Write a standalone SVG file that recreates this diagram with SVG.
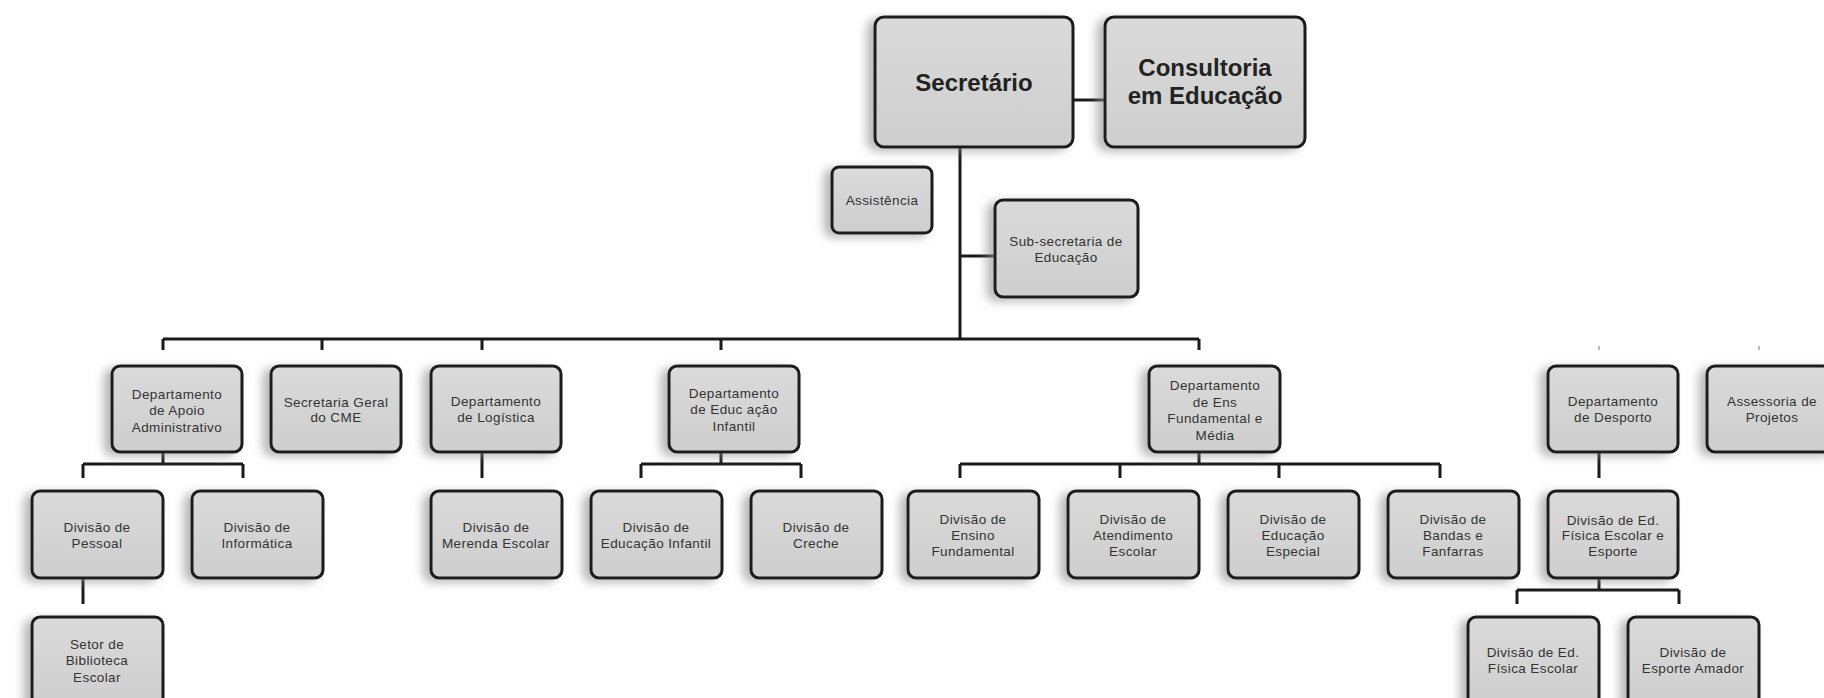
<svg xmlns="http://www.w3.org/2000/svg" width="1824" height="698" viewBox="0 0 1824 698">
<defs>
<linearGradient id="g" x1="0" y1="0" x2="0" y2="1">
<stop offset="0" stop-color="#dadada"/>
<stop offset="1" stop-color="#cecece"/>
</linearGradient>
<filter id="sh" x="-30%" y="-30%" width="160%" height="160%">
<feDropShadow dx="-7" dy="3" stdDeviation="5" flood-color="#8a8a8a" flood-opacity="0.6"/>
</filter>
</defs>
<style>
.box{fill:url(#g);stroke:#1c1c1c;stroke-width:3;filter:url(#sh)}
.t{font-family:'Liberation Sans',Arial,sans-serif;font-size:13.5px;fill:#333;text-anchor:middle;letter-spacing:0.4px}
.b{font-family:'Liberation Sans',Arial,sans-serif;font-size:24px;font-weight:bold;fill:#222;text-anchor:middle}
.ln{fill:none;stroke:#1a1a1a;stroke-width:3}
.tick{fill:none;stroke:#bdbdbd;stroke-width:2}
</style>
<rect width="1824" height="698" fill="#ffffff"/>
<g id="connectors">
<path class="ln" d="M1073 100H1105"/>
<path class="ln" d="M960 147V339"/>
<path class="ln" d="M960 256H995"/>
<path class="ln" d="M163 339H1199"/>
<path class="ln" d="M163 339V350M322 339V350M482 339V350M721 339V350M1199 339V350"/>
<path class="ln" d="M163 452V464M83 464H243M83 464V478M243 464V478"/>
<path class="ln" d="M83 578V604"/>
<path class="ln" d="M482 452V478"/>
<path class="ln" d="M721 452V464M641 464H801M641 464V478M801 464V478"/>
<path class="ln" d="M1199 452V464M960 464H1440M960 464V478M1120 464V478M1279 464V478M1440 464V478"/>
<path class="ln" d="M1599 452V478"/>
<path class="ln" d="M1599 578V590M1517 590H1679M1517 590V604M1679 590V604"/>
<path class="tick" d="M1599 346V350M1759 346V350"/>
</g>
<g id="secretario"><rect class="box" x="875" y="17" width="198" height="130" rx="9"/><text class="b" x="974" y="91">Secretário</text></g>
<g id="consultoria"><rect class="box" x="1105" y="17" width="200" height="130" rx="9"/><text class="b" x="1205" y="76">Consultoria</text><text class="b" x="1205" y="104">em Educação</text></g>
<g id="assistencia"><rect class="box" x="832" y="167" width="100" height="66" rx="7"/><text class="t" x="882" y="205">Assistência</text></g>
<g id="subsecretaria"><rect class="box" x="995" y="200" width="143" height="97" rx="8"/><text class="t" x="1066" y="246">Sub-secretaria de</text><text class="t" x="1066" y="262">Educação</text></g>

<g id="dep-apoio"><rect class="box" x="112" y="366" width="130" height="86" rx="8"/><text class="t" x="177" y="399">Departamento</text><text class="t" x="177" y="415">de Apoio</text><text class="t" x="177" y="432">Administrativo</text></g>
<g id="sec-geral"><rect class="box" x="271" y="366" width="130" height="86" rx="8"/><text class="t" x="336" y="407">Secretaria Geral</text><text class="t" x="336" y="422">do CME</text></g>
<g id="dep-logistica"><rect class="box" x="431" y="366" width="130" height="86" rx="8"/><text class="t" x="496" y="406">Departamento</text><text class="t" x="496" y="422">de Logística</text></g>
<g id="dep-ed-infantil"><rect class="box" x="669" y="366" width="130" height="86" rx="8"/><text class="t" x="734" y="398">Departamento</text><text class="t" x="734" y="414">de Educ ação</text><text class="t" x="734" y="431">Infantil</text></g>
<g id="dep-ens-fund"><rect class="box" x="1149" y="366" width="131" height="86" rx="8"/><text class="t" x="1215" y="390">Departamento</text><text class="t" x="1215" y="407">de Ens</text><text class="t" x="1215" y="423">Fundamental e</text><text class="t" x="1215" y="440">Média</text></g>
<g id="dep-desporto"><rect class="box" x="1548" y="366" width="130" height="86" rx="8"/><text class="t" x="1613" y="406">Departamento</text><text class="t" x="1613" y="422">de Desporto</text></g>
<g id="assessoria"><rect class="box" x="1707" y="366" width="130" height="86" rx="8"/><text class="t" x="1772" y="406">Assessoria de</text><text class="t" x="1772" y="422">Projetos</text></g>

<g id="div-pessoal"><rect class="box" x="32" y="491" width="131" height="87" rx="8"/><text class="t" x="97" y="532">Divisão de</text><text class="t" x="97" y="548">Pessoal</text></g>
<g id="div-informatica"><rect class="box" x="192" y="491" width="131" height="87" rx="8"/><text class="t" x="257" y="532">Divisão de</text><text class="t" x="257" y="548">Informática</text></g>
<g id="div-merenda"><rect class="box" x="431" y="491" width="131" height="87" rx="8"/><text class="t" x="496" y="532">Divisão de</text><text class="t" x="496" y="548">Merenda Escolar</text></g>
<g id="div-ed-infantil"><rect class="box" x="591" y="491" width="131" height="87" rx="8"/><text class="t" x="656" y="532">Divisão de</text><text class="t" x="656" y="548">Educação Infantil</text></g>
<g id="div-creche"><rect class="box" x="751" y="491" width="131" height="87" rx="8"/><text class="t" x="816" y="532">Divisão de</text><text class="t" x="816" y="548">Creche</text></g>
<g id="div-ensino-fund"><rect class="box" x="908" y="491" width="131" height="87" rx="8"/><text class="t" x="973" y="524">Divisão de</text><text class="t" x="973" y="540">Ensino</text><text class="t" x="973" y="556">Fundamental</text></g>
<g id="div-atendimento"><rect class="box" x="1068" y="491" width="131" height="87" rx="8"/><text class="t" x="1133" y="524">Divisão de</text><text class="t" x="1133" y="540">Atendimento</text><text class="t" x="1133" y="556">Escolar</text></g>
<g id="div-especial"><rect class="box" x="1228" y="491" width="131" height="87" rx="8"/><text class="t" x="1293" y="524">Divisão de</text><text class="t" x="1293" y="540">Educação</text><text class="t" x="1293" y="556">Especial</text></g>
<g id="div-bandas"><rect class="box" x="1388" y="491" width="131" height="87" rx="8"/><text class="t" x="1453" y="524">Divisão de</text><text class="t" x="1453" y="540">Bandas e</text><text class="t" x="1453" y="556">Fanfarras</text></g>
<g id="div-ed-fisica-esporte"><rect class="box" x="1548" y="491" width="130" height="87" rx="8"/><text class="t" x="1613" y="525">Divisão de Ed.</text><text class="t" x="1613" y="540">Física Escolar e</text><text class="t" x="1613" y="556">Esporte</text></g>

<g id="setor-biblioteca"><rect class="box" x="32" y="617" width="131" height="90" rx="8"/><text class="t" x="97" y="649">Setor de</text><text class="t" x="97" y="665">Biblioteca</text><text class="t" x="97" y="682">Escolar</text></g>
<g id="div-ed-fisica-escolar"><rect class="box" x="1468" y="617" width="131" height="90" rx="8"/><text class="t" x="1533" y="657">Divisão de Ed.</text><text class="t" x="1533" y="673">Física Escolar</text></g>
<g id="div-esporte-amador"><rect class="box" x="1628" y="617" width="131" height="90" rx="8"/><text class="t" x="1693" y="657">Divisão de</text><text class="t" x="1693" y="673">Esporte Amador</text></g>
</svg>
